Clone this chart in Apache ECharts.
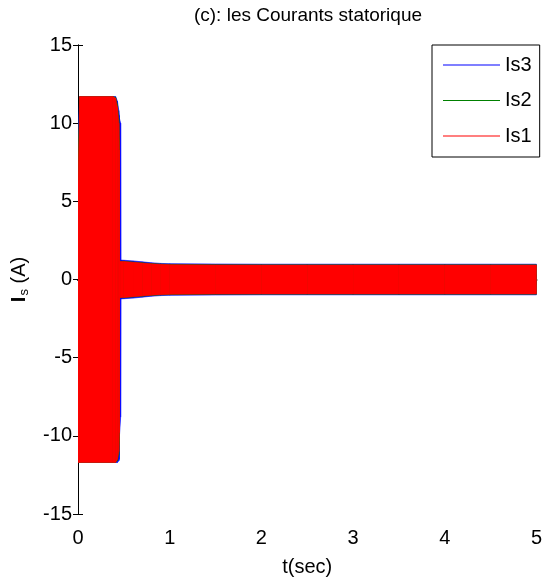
<!DOCTYPE html>
<html>
<head>
<meta charset="utf-8">
<script src="https://cdn.jsdelivr.net/npm/echarts@6/dist/echarts.min.js"></script>
<style>
  html, body { margin: 0; padding: 0; background: #fff; }
  #chart { width: 545px; height: 582px; }
</style>
</head>
<body>
<div id="chart"></div>
<script>
// Stator currents: envelope (upper / lower peak) of each phase over time, in A
const tSec = [0, 0.02, 0.38, 0.41, 0.43, 0.445, 0.45, 0.452, 0.465, 0.468, 0.5, 0.6, 0.7, 0.8, 0.9, 1.0, 1.5, 2.0, 2.5, 3.0, 3.5, 4.0, 4.5, 5.0];

const is1Hi = [6.0, 11.7, 11.7, 11.6, 11.0, 10.0, 8.3, 1.15, 1.15, 1.15, 1.15, 1.1, 1.05, 1.0, 0.97, 0.95, 0.93, 0.92, 0.92, 0.92, 0.92, 0.92, 0.92, 0.92];
const is1Lo = [-11.7, -11.7, -11.7, -11.7, -11.5, -11.0, -9.8, -1.15, -1.15, -1.15, -1.15, -1.1, -1.05, -1.0, -0.97, -0.95, -0.93, -0.92, -0.92, -0.92, -0.92, -0.92, -0.92, -0.92];

const is2Hi = [8.0, 11.7, 11.7, 11.65, 11.2, 10.3, 9.0, 1.17, 1.17, 1.17, 1.17, 1.12, 1.07, 1.02, 0.99, 0.97, 0.95, 0.94, 0.94, 0.94, 0.94, 0.94, 0.94, 0.94];
const is2Lo = [-11.7, -11.7, -11.7, -11.7, -11.6, -11.2, -10.5, -1.17, -1.17, -1.17, -1.17, -1.12, -1.07, -1.02, -0.99, -0.97, -0.95, -0.94, -0.94, -0.94, -0.94, -0.94, -0.94, -0.94];

const is3Hi = [9.4, 11.7, 11.7, 11.7, 11.4, 10.8, 10.5, 10.3, 10.0, 1.24, 1.23, 1.19, 1.13, 1.07, 1.03, 1.01, 0.99, 0.98, 0.98, 0.98, 0.98, 0.98, 0.98, 0.98];
const is3Lo = [-11.7, -11.7, -11.7, -11.7, -11.7, -11.6, -11.5, -10.0, -8.8, -1.24, -1.23, -1.19, -1.13, -1.07, -1.03, -1.01, -0.99, -0.98, -0.98, -0.98, -0.98, -0.98, -0.98, -0.98];

const xTicks = [0, 1, 2, 3, 4, 5];
const yTicks = [-15, -10, -5, 0, 5, 10, 15];

const FONT = "'Liberation Sans', Arial, sans-serif";

// one quad per time step, between the lower and upper envelope
function segments(lo, hi) {
  const out = [];
  for (let i = 0; i < tSec.length - 1; i++) {
    out.push([tSec[i], lo[i], hi[i], tSec[i + 1], lo[i + 1], hi[i + 1]]);
  }
  return out;
}

function bandSeries(name, color, lo, hi) {
  return {
    name: name,
    type: 'custom',
    xAxisIndex: 0,
    yAxisIndex: 0,
    clip: true,
    itemStyle: { color: color },
    encode: { x: [0, 3], y: [1, 2, 4, 5] },
    data: segments(lo, hi),
    renderItem: function (params, api) {
      const t0 = api.value(0), lo0 = api.value(1), hi0 = api.value(2);
      const t1 = api.value(3), lo1 = api.value(4), hi1 = api.value(5);
      const pts = [
        api.coord([t0, hi0]),
        api.coord([t1, hi1]),
        api.coord([t1, lo1]),
        api.coord([t0, lo0])
      ];
      return {
        type: 'polygon',
        shape: { points: pts },
        style: { fill: color, stroke: color, lineWidth: 0.6 }
      };
    }
  };
}

const axisBlack = { lineStyle: { color: '#000', width: 1 } };
const inTicks = { show: true, inside: true, length: 5, lineStyle: { color: '#000' } };

const chart = echarts.init(document.getElementById('chart'), null, { renderer: 'canvas' });

chart.setOption({
  animation: false,
  backgroundColor: '#fff',
  title: {
    text: '(c): les Courants statorique',
    left: 308,
    top: 6,
    textAlign: 'center',
    padding: 0,
    textStyle: { fontFamily: FONT, fontSize: 19, fontWeight: 'normal', color: '#000' }
  },
  grid: { left: 78, top: 45, right: 7, bottom: 68 },
  legend: {
    orient: 'vertical',
    left: 432,
    top: 45,
    padding: [10, 8, 11, 11],
    itemWidth: 57,
    itemHeight: 1,
    itemGap: 15.5,
    backgroundColor: '#fff',
    borderColor: '#000',
    borderWidth: 1,
    borderRadius: 0,
    z: 10,
    textStyle: { fontFamily: FONT, fontSize: 20, color: '#000', lineHeight: 20 },
    data: [
      { name: 'Is3', icon: 'rect' },
      { name: 'Is2', icon: 'rect' },
      { name: 'Is1', icon: 'rect' }
    ]
  },
  xAxis: [
    {
      type: 'value',
      position: 'bottom',
      min: xTicks[0],
      max: xTicks[xTicks.length - 1],
      interval: 1,
      name: 't(sec)',
      nameLocation: 'middle',
      nameGap: 43,
      nameTextStyle: { fontFamily: FONT, fontSize: 20, color: '#000' },
      axisLine: { show: true, lineStyle: { color: '#000', width: 2 } },
      axisTick: inTicks,
      axisLabel: { fontFamily: FONT, fontSize: 20, color: '#000', margin: 14 },
      splitLine: { show: false }
    },
    {
      type: 'value',
      position: 'top',
      min: xTicks[0],
      max: xTicks[xTicks.length - 1],
      interval: 1,
      axisLine: Object.assign({ show: true }, axisBlack),
      axisTick: inTicks,
      axisLabel: { show: false },
      splitLine: { show: false }
    }
  ],
  yAxis: [
    {
      type: 'value',
      position: 'left',
      min: yTicks[0],
      max: yTicks[yTicks.length - 1],
      interval: 5,
      name: '{i|I}{s|s}{a| (A)}',
      nameLocation: 'middle',
      nameGap: 49,
      nameRotate: 90,
      nameTextStyle: {
        fontFamily: FONT,
        fontSize: 20,
        color: '#000',
        rich: {
          i: { fontFamily: FONT, fontSize: 20, fontWeight: 'bold', color: '#000', lineHeight: 20, verticalAlign: 'top' },
          s: { fontFamily: FONT, fontSize: 13, color: '#000', lineHeight: 13, padding: [9, 0, 0, 1], verticalAlign: 'top' },
          a: { fontFamily: FONT, fontSize: 20, color: '#000', lineHeight: 20, verticalAlign: 'top' }
        }
      },
      axisLine: Object.assign({ show: true }, axisBlack),
      axisTick: inTicks,
      axisLabel: { fontFamily: FONT, fontSize: 20, color: '#000', margin: 6 },
      splitLine: { show: false }
    },
    {
      type: 'value',
      position: 'right',
      min: yTicks[0],
      max: yTicks[yTicks.length - 1],
      interval: 5,
      axisLine: Object.assign({ show: true }, axisBlack),
      axisTick: inTicks,
      axisLabel: { show: false },
      splitLine: { show: false }
    }
  ],
  series: [
    bandSeries('Is3', '#0000ff', is3Lo, is3Hi),
    bandSeries('Is2', '#008000', is2Lo, is2Hi),
    bandSeries('Is1', '#ff0000', is1Lo, is1Hi)
  ]
});
</script>
</body>
</html>
